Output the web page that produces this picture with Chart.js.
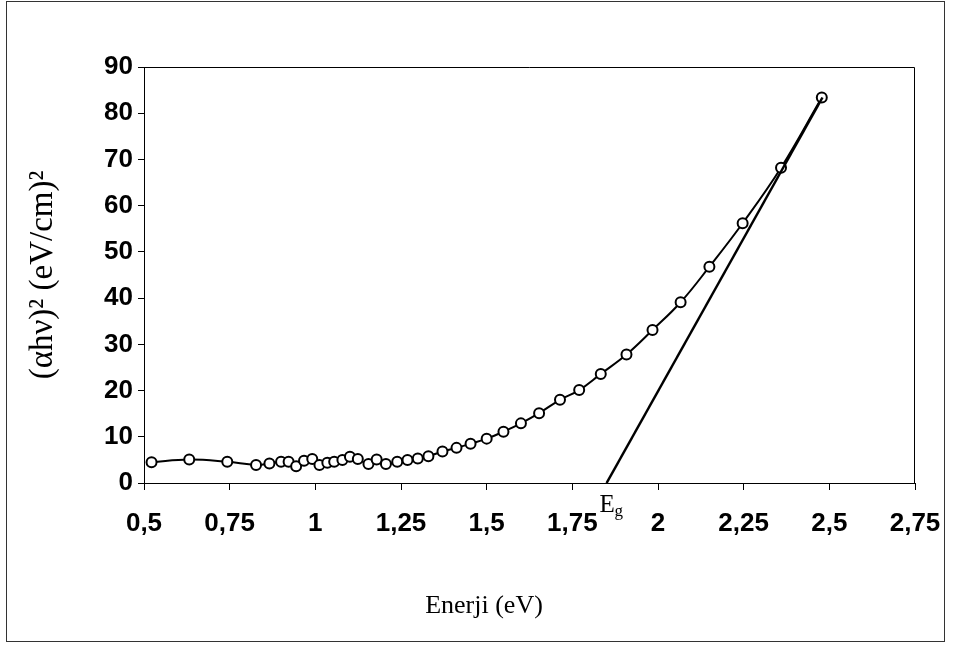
<!DOCTYPE html>
<html>
<head>
<meta charset="utf-8">
<script src="https://cdn.jsdelivr.net/npm/chart.js@4.4.0/dist/chart.umd.min.js"></script>
<style>
  html, body { margin: 0; padding: 0; background: #fff; }
  #wrap { width: 953px; height: 648px; position: relative; }
</style>
</head>
<body>
<div id="wrap"><canvas id="chart"></canvas></div>
<script>
// photon energy (eV) and (alpha*h*nu)^2
const energy = [
  0.522, 0.632, 0.743, 0.827, 0.866, 0.900, 0.922, 0.944, 0.967, 0.991,
  1.012, 1.035, 1.055, 1.079, 1.101, 1.124, 1.155, 1.179, 1.206, 1.239,
  1.269, 1.299, 1.330, 1.371, 1.412, 1.453, 1.500, 1.549, 1.600, 1.653,
  1.714, 1.770, 1.833, 1.908, 1.984, 2.066, 2.150, 2.247, 2.359, 2.478
];
const absorption = [
  4.5, 5.1, 4.6, 3.9, 4.2, 4.6, 4.6, 3.6, 4.8, 5.2,
  3.9, 4.4, 4.6, 5.0, 5.7, 5.2, 4.1, 5.1, 4.1, 4.6,
  5.0, 5.3, 5.8, 6.8, 7.6, 8.5, 9.6, 11.1, 12.9, 15.1,
  18.0, 20.1, 23.6, 27.8, 33.1, 39.1, 46.8, 56.2, 68.2, 83.4
];

// linear fit extrapolated to the energy axis (band gap)
const tangentEnergy = [1.85, 2.48];
const tangentValue = [0, 83.4];

const xTickValues = [0.5, 0.75, 1, 1.25, 1.5, 1.75, 2, 2.25, 2.5, 2.75];
const yTickValues = [0, 10, 20, 30, 40, 50, 60, 70, 80, 90];

const xTitle = 'Enerji (eV)';
const yTitle = '(αhν)² (eV/cm)²';

const tickFont = { family: '"Liberation Sans", Arial, sans-serif', size: 26, weight: 'bold' };
const serif = '"Liberation Serif", "Times New Roman", serif';

const framePlugin = {
  id: 'frame',
  beforeDraw(chart) {
    const ctx = chart.ctx;
    ctx.save();
    ctx.fillStyle = '#fff';
    ctx.fillRect(0, 0, chart.width, chart.height);
    ctx.strokeStyle = '#333';
    ctx.lineWidth = 1;
    ctx.strokeRect(6.5, 1.5, 938, 640);
    ctx.restore();
  },
  afterDraw(chart) {
    const { left, top, right, bottom } = chart.chartArea;
    const ctx = chart.ctx;
    ctx.save();
    ctx.strokeStyle = '#000';
    ctx.lineWidth = 1;
    ctx.beginPath();
    ctx.moveTo(left, top + 0.5);
    ctx.lineTo(right - 0.5, top + 0.5);
    ctx.lineTo(right - 0.5, bottom);
    ctx.stroke();
    // x axis title sits left of the plot centre in the original
    ctx.fillStyle = '#000';
    ctx.font = '26px ' + serif;
    ctx.textAlign = 'center';
    ctx.textBaseline = 'middle';
    ctx.fillText(xTitle, 484, 606);
    ctx.restore();
  }
};

// "Eg" mark under the intercept of the fit line
const egPlugin = {
  id: 'egLabel',
  afterDatasetsDraw(chart) {
    const ctx = chart.ctx;
    const x = chart.scales.x.getPixelForValue(tangentEnergy[0]);
    const y = chart.scales.y.getPixelForValue(0);
    ctx.save();
    ctx.fillStyle = '#000';
    ctx.textBaseline = 'alphabetic';
    ctx.font = '25px ' + serif;
    ctx.fillText('E', x - 7, y + 29);
    ctx.font = '17px ' + serif;
    ctx.fillText('g', x + 8, y + 33);
    ctx.restore();
  }
};

new Chart(document.getElementById('chart'), {
  type: 'line',
  data: {
    datasets: [
      {
        data: energy.map((e, i) => ({ x: e, y: absorption[i] })),
        borderColor: '#000',
        borderWidth: 2,
        tension: 0.4,
        pointRadius: 5,
        pointBorderWidth: 2,
        pointBackgroundColor: '#fff',
        pointBorderColor: '#000',
        order: 1
      },
      {
        data: tangentEnergy.map((e, i) => ({ x: e, y: tangentValue[i] })),
        borderColor: '#000',
        borderWidth: 2.5,
        pointRadius: 0,
        tension: 0,
        order: 0
      }
    ]
  },
  options: {
    responsive: true,
    maintainAspectRatio: false,
    animation: false,
    layout: { padding: { left: 0, right: 38, top: 67, bottom: 0 } },
    plugins: { legend: { display: false }, tooltip: { enabled: false } },
    scales: {
      x: {
        type: 'linear',
        min: 0.5,
        max: 2.75,
        afterBuildTicks: s => { s.ticks = xTickValues.map(v => ({ value: v })); },
        afterFit: s => { s.height = 165; s.paddingLeft = 0; s.paddingRight = 0; },
        ticks: {
          color: '#000',
          font: tickFont,
          padding: 18,
          maxRotation: 0,
          autoSkip: false,
          callback: v => String(v).replace('.', ',')
        },
        grid: { drawOnChartArea: false, color: '#000', tickLength: 7 },
        border: { color: '#000', width: 1 }
      },
      y: {
        min: 0,
        max: 90,
        afterBuildTicks: s => { s.ticks = yTickValues.map(v => ({ value: v })); },
        afterFit: s => { s.width = 144; },
        ticks: { color: '#000', font: tickFont, padding: 5 },
        grid: { drawOnChartArea: false, color: '#000', tickLength: 6 },
        border: { color: '#000', width: 1 },
        title: {
          display: true,
          text: yTitle,
          color: '#000',
          font: { family: serif, size: 33 },
          padding: { top: 24, bottom: 0 }
        }
      }
    }
  },
  plugins: [framePlugin, egPlugin]
});
</script>
</body>
</html>
